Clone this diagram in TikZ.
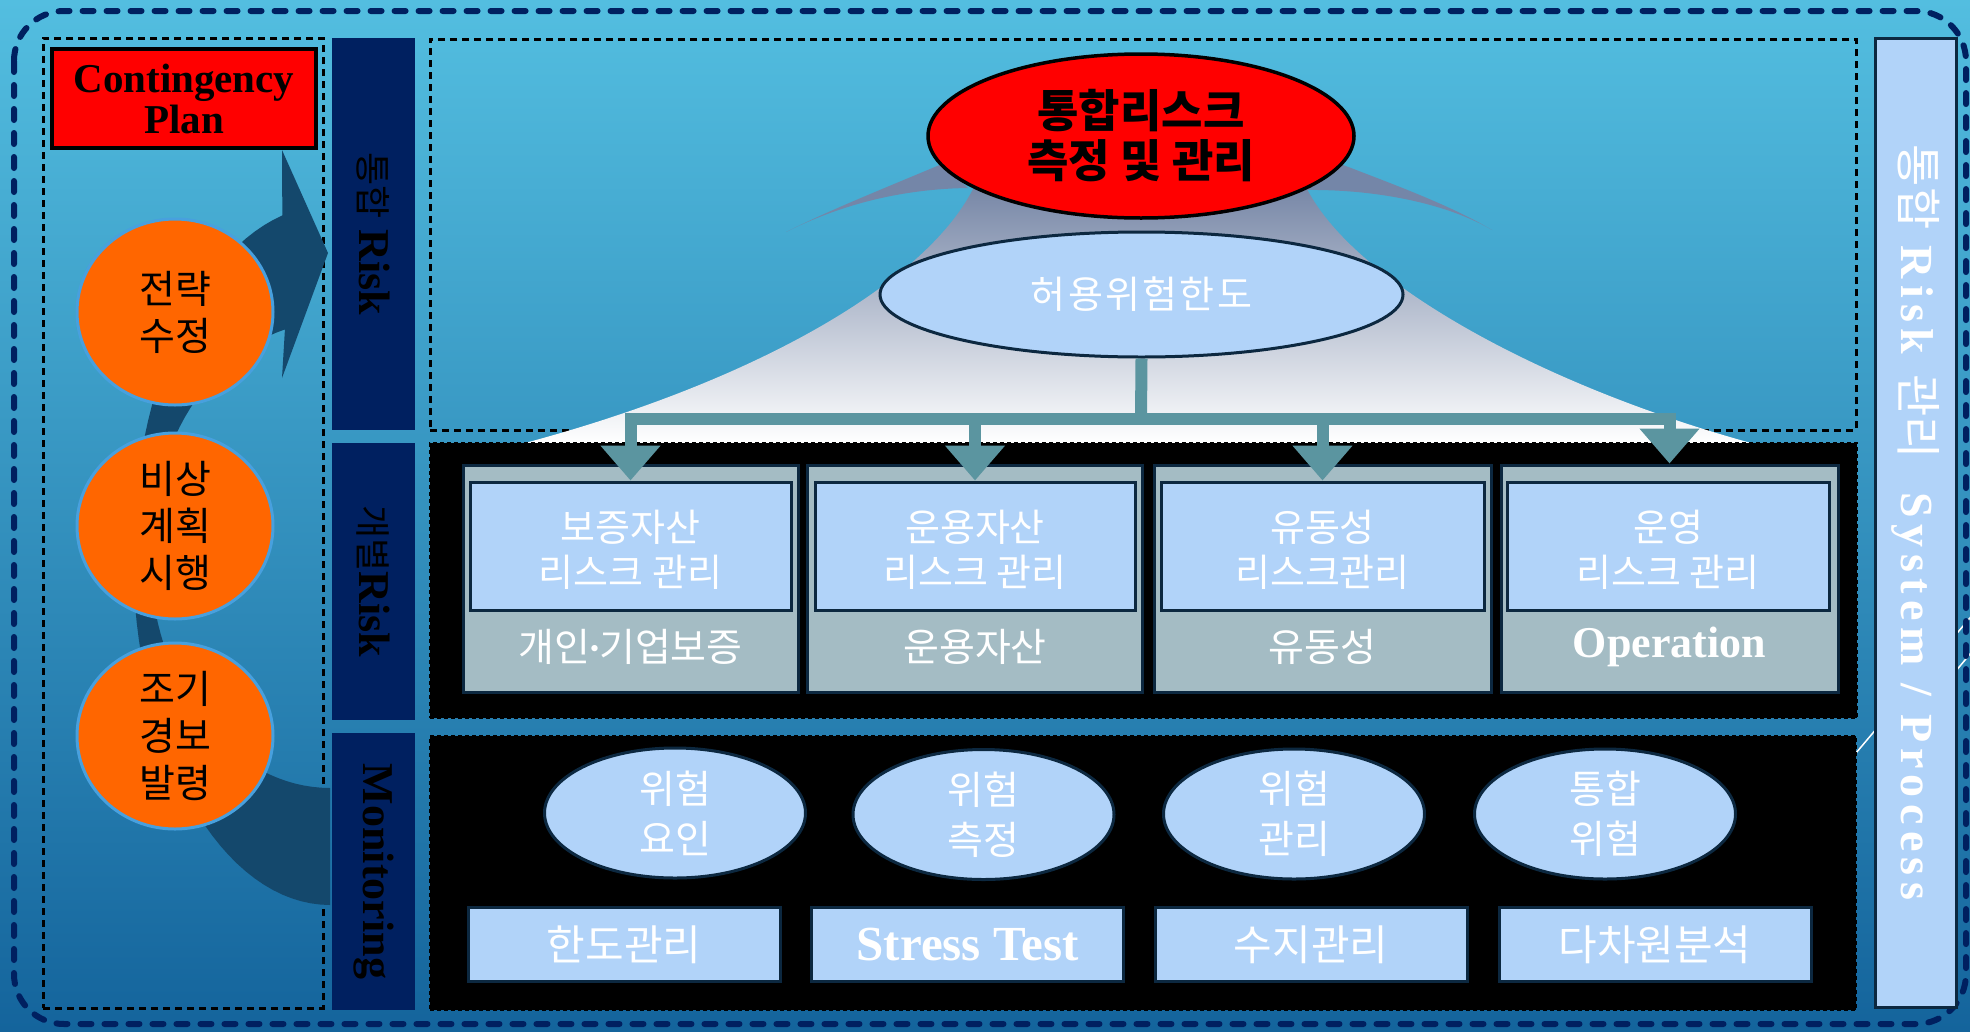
\documentclass[tikz,border=0pt]{standalone}
\usepackage{fontspec}
\setmainfont{Liberation Serif}
\newfontfamily\kr{Noto Sans CJK KR}
\usetikzlibrary{arrows.meta,shapes.geometric}
\newcommand{\fsz}[2]{\fontsize{#1}{#2}\selectfont}
\definecolor{navy}{RGB}{0,32,96}
\definecolor{lblue}{RGB}{177,211,249}
\definecolor{gboxc}{RGB}{164,188,196}
\definecolor{dkb}{RGB}{12,40,64}
\definecolor{arrc}{RGB}{91,149,160}
\definecolor{bgtop}{RGB}{83,190,224}
\definecolor{bgmid}{RGB}{50,148,196}
\definecolor{bgbot}{RGB}{20,100,156}
\definecolor{orng}{RGB}{255,102,0}
\definecolor{cborder}{RGB}{72,160,222}
\definecolor{bandc}{RGB}{20,72,108}
\definecolor{tenttop}{RGB}{118,134,166}
\definecolor{tentmid}{RGB}{205,210,222}
\definecolor{wingc}{RGB}{116,134,168}
\begin{document}
\begin{tikzpicture}[x=1pt,y=-1pt,
  dframe/.style={rectangle, draw=black, line width=3pt, dash pattern=on 7pt off 5pt, inner sep=0pt},
  navycol/.style={rectangle, fill=navy, inner sep=0pt, rotate=-90, minimum height=83pt, text=black, font=\bfseries\fsz{44}{44}},
  circ/.style={ellipse, fill=orng, draw=cborder, line width=3pt, minimum width=196pt, minimum height=186pt, inner sep=0pt, align=center, font=\kr\fsz{39}{47}},
  gbx/.style={rectangle, fill=gboxc, draw=dkb, line width=3pt, minimum height=227pt, inner sep=0pt},
  ibx/.style={rectangle, fill=lblue, draw=dkb, line width=3pt, minimum height=128pt, inner sep=0pt},
  ibt/.style={align=center, text=white, inner sep=0pt, font=\kr\fsz{38}{45}},
  glab/.style={text=white, font=\kr\fsz{39}{39}, inner sep=0pt},
  mell/.style={ellipse, fill=lblue, draw=dkb, line width=3pt, minimum width=261pt, minimum height=130pt, inner sep=0pt, align=center, text=white, font=\kr\fsz{39}{50}},
  mrect/.style={rectangle, fill=lblue, draw=dkb, line width=3pt, minimum width=312pt, minimum height=74pt, inner sep=0pt, text=white, font=\kr\fsz{42}{42}},
  conn/.style={draw=arrc, line width=12pt},
  tipa/.style={-{Triangle[width=58pt,length=35pt]}},
  blk/.style={rectangle, fill=black, draw=black, line width=2pt, dash pattern=on 4pt off 3pt, inner sep=0pt}
]
\useasboundingbox (0,0) rectangle (1970,1031);
% background
\shade[top color=bgtop, middle color=bgmid, bottom color=bgbot] (0,0) rectangle (1970,1031);
% decorative diagonal lines
\draw[white, line width=1.5pt] (1845,766) -- (1985,600);
\draw[white, line width=1.5pt] (1950,678) -- (1985,636);
% outer dashed frame
\draw[navy, line width=6pt, dash pattern=on 11pt off 13pt, line cap=round, rounded corners=50pt] (14,11) rectangle (1966,1024);

% left panel
\node[dframe, minimum width=280pt, minimum height=970pt] (lbox) at (183,523) {};
\fill[bandc] plot[domain=90:256,samples=60] ({330+197*cos(\x)},{555+350*sin(\x)})
  -- (282,150) -- (328,253) -- (282,378)
  -- plot[domain=255.5:90,samples=60] ({330+180*cos(\x)},{555+233*sin(\x)}) -- cycle;
\node[rectangle, fill=red, draw=black, line width=3.5pt, minimum width=264pt, minimum height=99pt, inner sep=0pt, align=center, font=\bfseries\fsz{41}{41}] (cp) at (184,98.5) {Contingency\\Plan};
\node[circ] (c1) at (175,312) {전략\\수정};
\node[circ] (c2) at (175,526) {비상\\계획\\시행};
\node[circ] (c3) at (175,736) {조기\\경보\\발령};

% navy columns
\node[navycol, minimum width=392pt] (col1) at (373.5,234) {{\kr\mdseries\fsz{36}{36}통합} Risk};
\node[navycol, minimum width=277pt] (col2) at (373.5,581.5) {{\kr\mdseries\fsz{36}{36}개별}Risk};
\node[navycol, minimum width=277pt] (col3) at (373.5,871.5) {Monitoring};

% top section
\node[dframe, minimum width=1426pt, minimum height=391pt] (topbox) at (1143,234.5) {};
\shade[top color=tenttop, middle color=tentmid, bottom color=white]
  (975,185) .. controls (930,280) and (760,380) .. (525,443) -- (1751,443)
  .. controls (1540,385) and (1350,280) .. (1305,185) -- cycle;
\fill[wingc] (942,164) .. controls (880,190) and (830,210) .. (786,232)
  .. controls (840,205) and (900,189) .. (968,188) -- cycle;
\fill[wingc] (1338,163) .. controls (1395,185) and (1450,205) .. (1492,230)
  .. controls (1450,205) and (1380,189) .. (1305,190) -- cycle;
\node[ellipse, fill=red, draw=black, line width=3.5pt, minimum width=426pt, minimum height=164pt, inner sep=0pt, align=center, font=\kr\bfseries\fsz{45}{50}] (re) at (1141,136) {통합리스크\\측정 및 관리};
\node[ellipse, fill=lblue, draw=dkb, line width=3pt, minimum width=523pt, minimum height=125pt, inner sep=0pt, text=white, font=\kr\fsz{38}{38}\addfontfeature{LetterSpace=6}] (hy) at (1141.5,294.5) {허용위험한도};

% individual risk section
\node[blk, minimum width=1427pt, minimum height=275pt] (ind) at (1143.5,580.5) {};
\node[gbx, minimum width=335pt] (gb1) at (630.5,578.5) {};
\node[gbx, minimum width=335pt] (gb2) at (975,578.5) {};
\node[gbx, minimum width=337pt] (gb3) at (1322.5,578.5) {};
\node[gbx, minimum width=337pt] (gb4) at (1669.5,578.5) {};
\node[ibx, minimum width=321pt] (ib1) at (630.5,546) {};
\node[ibx, minimum width=320pt] (ib2) at (975,546) {};
\node[ibx, minimum width=323pt] (ib3) at (1322.5,546) {};
\node[ibx, minimum width=322pt] (ib4) at (1668,546) {};
\node[ibt] (it1) at (630.5,550) {보증자산\\리스크 관리};
\node[ibt] (it2) at (975,550) {운용자산\\리스크 관리};
\node[ibt] (it3) at (1322.5,550) {유동성\\리스크관리};
\node[ibt] (it4) at (1668,550) {운영\\리스크 관리};
\node[glab] (gl1) at (630.5,647) {개인{\rmfamily\bfseries\kern-2pt·\kern-2pt}기업보증};
\node[glab] (gl2) at (975,647) {운용자산};
\node[glab] (gl3) at (1322.5,647) {유동성};
\node[glab, font=\bfseries\fsz{44}{44}] (gl4) at (1669.5,647) {Operation};

% connectors
\coordinate (bar) at (1141,419);
\draw[conn] (hy.south) -- (bar);
\draw[conn, tipa] (bar) -| (ib1.north);
\draw[conn, tipa] (bar) -| (gb4.north);
\draw[conn, tipa] (bar -| ib2.north) -- (ib2.north);
\draw[conn, tipa] (bar -| ib3.north) -- (ib3.north);

% monitoring section
\node[blk, minimum width=1426pt, minimum height=274pt] (mon) at (1143,873) {};
\node[mell] (e1) at (675,813) {위험\\요인};
\node[mell] (e2) at (983.5,814.5) {위험\\측정};
\node[mell] (e3) at (1294,814) {위험\\관리};
\node[mell] (e4) at (1605,814) {통합\\위험};
\node[mrect] (r1) at (624,944.5) {한도관리};
\node[mrect, font=\bfseries\fsz{49}{49}] (r2) at (967.5,944.5) {Stress Test};
\node[mrect] (r3) at (1311,944.5) {수지관리};
\node[mrect] (r4) at (1655,944.5) {다차원분석};

% right column
\node[rectangle, fill=lblue, draw=dkb, line width=3pt, rotate=-90, minimum width=969pt, minimum height=81pt, inner sep=0pt, text=white, font=\bfseries\fsz{46}{46}] (rc) at (1915.5,522.5)
  {{\kr\mdseries\fsz{46}{46}통합}\hspace{16pt}{\addfontfeature{LetterSpace=14}Risk}\hspace{20pt}{\kr\mdseries\fsz{46}{46}관리}\hspace{34pt}{\addfontfeature{LetterSpace=14}System / Process}};
\end{tikzpicture}
\end{document}
